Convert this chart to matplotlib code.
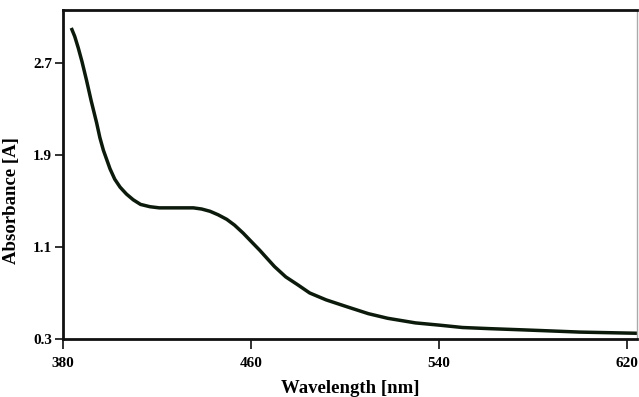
import matplotlib
matplotlib.use("Agg")
import matplotlib.pyplot as plt

# absorbance spectrum
wavelength = [383.8, 385.0, 386.5, 388.1, 390.0, 392.0, 394.3, 395.7, 397.2, 400.0,
              402.0, 404.3, 407.0, 409.9, 413.0, 417.0, 421.0, 425.5, 430.0, 435.5,
              439.0, 442.6, 446.0, 449.7, 453.0, 456.7, 460.0, 463.8, 466.0, 470.0,
              474.8, 480.0, 485.0, 492.0, 500.9, 510.0, 518.2, 530.0, 540.4, 550.0,
              561.6, 575.0, 587.7, 600.0, 612.0, 624.0]
absorbance = [2.99, 2.93, 2.83, 2.71, 2.55, 2.37, 2.18, 2.05, 1.94, 1.78,
              1.69, 1.62, 1.56, 1.51, 1.47, 1.45, 1.44, 1.44, 1.44, 1.44,
              1.43, 1.41, 1.38, 1.34, 1.29, 1.22, 1.15, 1.07, 1.02, 0.93,
              0.84, 0.77, 0.70, 0.64, 0.58, 0.52, 0.48, 0.44, 0.42, 0.40,
              0.39, 0.38, 0.37, 0.36, 0.355, 0.35]

xticks = [380, 460, 540, 620]
yticks = [0.3, 1.1, 1.9, 2.7]

fig = plt.figure(figsize=(6.39, 3.97), dpi=100)
ax = fig.add_axes([63 / 639, 1 - 339 / 397, (637 - 63) / 639, (339 - 10) / 397])

ax.plot(wavelength, absorbance, color="#0c1a0c", lw=2.5, solid_joinstyle="round")

ax.set_xlim(380, 624.3)
ax.set_ylim(0.3, 3.16)
ax.set_xticks(xticks)
ax.set_yticks(yticks)
ax.set_xticklabels([str(t) for t in xticks])
ax.set_yticklabels([str(t) for t in yticks])

for lab in ax.get_xticklabels() + ax.get_yticklabels():
    lab.set_fontfamily("Liberation Serif")
    lab.set_fontsize(11)
    lab.set_fontweight("bold")

ax.tick_params(axis="x", direction="out", length=7, width=1.3, color="#222222", pad=6)
ax.tick_params(axis="y", direction="out", length=6, width=1.3, color="#222222", pad=2)

for side in ["left", "bottom", "top"]:
    ax.spines[side].set_linewidth(2.0)
    ax.spines[side].set_color("#111111")
ax.spines["right"].set_linewidth(1.0)
ax.spines["right"].set_color("#aaaaaa")

ax.set_xlabel("Wavelength [nm]", family="Liberation Serif", fontsize=13.5,
              fontweight="bold", labelpad=7)
ax.set_ylabel("Absorbance [A]", family="Liberation Serif", fontsize=13.5,
              fontweight="bold")
ax.yaxis.set_label_coords(-0.075, 0.42)

fig.savefig("out.png", dpi=100)
